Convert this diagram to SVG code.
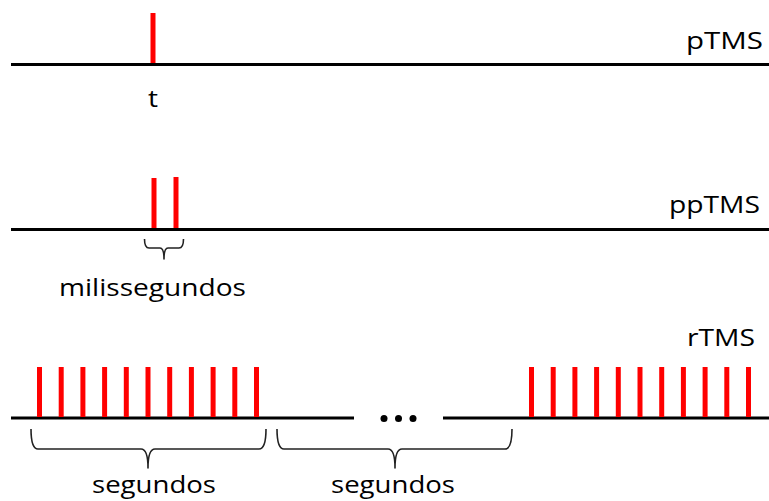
<svg xmlns="http://www.w3.org/2000/svg" width="769" height="501" viewBox="0 0 769 501">
  <style>
    .axis { stroke: #000; stroke-width: 3; fill: none; }
    .pulse { stroke: #ff0000; stroke-width: 5; fill: none; }
    .brace { stroke: #222; stroke-width: 1.6; fill: none; stroke-linejoin: round; }
    .lbl { font-family: "Open Sans", "Liberation Sans", sans-serif; font-size: 24px; fill: #000; }
  </style>

  <!-- single pulse -->
  <g id="pTMS">
    <line class="axis" x1="11" y1="64.5" x2="769" y2="64.5"/>
    <line class="pulse" x1="153" y1="13" x2="153" y2="63"/>
    <text class="lbl" x="686" y="49" textLength="77" lengthAdjust="spacingAndGlyphs">pTMS</text>
    <text class="lbl" x="148" y="107" textLength="10" lengthAdjust="spacingAndGlyphs">t</text>
  </g>

  <!-- paired pulse -->
  <g id="ppTMS">
    <line class="axis" x1="11" y1="229.5" x2="769" y2="229.5"/>
    <line class="pulse" x1="154" y1="178" x2="154" y2="228"/>
    <line class="pulse" x1="176" y1="177" x2="176" y2="228"/>
    <path class="brace" d="M144.5,239 Q144.5,248 149,248 H160 Q164,248 164,259 Q164,248 168,248 H179 Q183.5,248 183.5,239"/>
    <text class="lbl" x="59" y="296" textLength="187" lengthAdjust="spacingAndGlyphs">milissegundos</text>
    <text class="lbl" x="669" y="213" textLength="91" lengthAdjust="spacingAndGlyphs">ppTMS</text>
  </g>

  <!-- repetitive trains -->
  <g id="rTMS">
    <line class="axis" x1="11" y1="418" x2="354" y2="418"/>
    <line class="axis" x1="443" y1="418" x2="769" y2="418"/>
    <g fill="#000">
      <circle cx="384" cy="418.5" r="3.5"/>
      <circle cx="398.5" cy="418.5" r="3.5"/>
      <circle cx="413" cy="418.5" r="3.5"/>
    </g>
    <g class="pulse">
      <line x1="39.5" y1="367" x2="39.5" y2="417"/>
      <line x1="61.2" y1="367" x2="61.2" y2="417"/>
      <line x1="82.9" y1="367" x2="82.9" y2="417"/>
      <line x1="104.6" y1="367" x2="104.6" y2="417"/>
      <line x1="126.3" y1="367" x2="126.3" y2="417"/>
      <line x1="148" y1="367" x2="148" y2="417"/>
      <line x1="169.7" y1="367" x2="169.7" y2="417"/>
      <line x1="191.4" y1="367" x2="191.4" y2="417"/>
      <line x1="213.1" y1="367" x2="213.1" y2="417"/>
      <line x1="234.8" y1="367" x2="234.8" y2="417"/>
      <line x1="256.5" y1="367" x2="256.5" y2="417"/>

      <line x1="531.5" y1="367" x2="531.5" y2="417"/>
      <line x1="553.2" y1="367" x2="553.2" y2="417"/>
      <line x1="574.9" y1="367" x2="574.9" y2="417"/>
      <line x1="596.6" y1="367" x2="596.6" y2="417"/>
      <line x1="618.3" y1="367" x2="618.3" y2="417"/>
      <line x1="640" y1="367" x2="640" y2="417"/>
      <line x1="661.7" y1="367" x2="661.7" y2="417"/>
      <line x1="683.4" y1="367" x2="683.4" y2="417"/>
      <line x1="705.1" y1="367" x2="705.1" y2="417"/>
      <line x1="726.8" y1="367" x2="726.8" y2="417"/>
      <line x1="748.5" y1="367" x2="748.5" y2="417"/>
    </g>
    <path class="brace" d="M31,429 Q31,449 38,449 H141 Q148,449 148,468 Q148,449 155,449 H259 Q266,449 266,429"/>
    <path class="brace" d="M277,429 Q277,449 284,449 H388 Q395,449 395,468 Q395,449 402,449 H505 Q512,449 512,429"/>
    <text class="lbl" x="92" y="493" textLength="124" lengthAdjust="spacingAndGlyphs">segundos</text>
    <text class="lbl" x="331" y="493" textLength="124" lengthAdjust="spacingAndGlyphs">segundos</text>
    <text class="lbl" x="687" y="346" textLength="68" lengthAdjust="spacingAndGlyphs">rTMS</text>
  </g>
</svg>
